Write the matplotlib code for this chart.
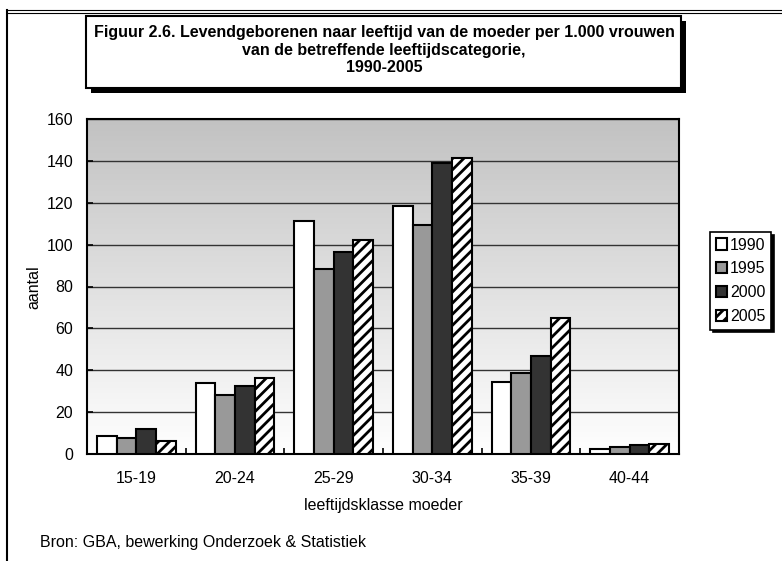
import matplotlib
matplotlib.use("Agg")
import matplotlib.pyplot as plt
from matplotlib.patches import Rectangle
from matplotlib.lines import Line2D
from matplotlib.colors import LinearSegmentedColormap
import numpy as np

categories = ["15-19", "20-24", "25-29", "30-34", "35-39", "40-44"]
years = ["1990", "1995", "2000", "2005"]
v1990 = [8.5, 33.8, 111.5, 118.6, 34.5, 2.2]
v1995 = [7.5, 28.3, 88.5, 109.3, 38.5, 3.2]
v2000 = [12.1, 32.5, 96.7, 139.0, 47.0, 4.4]
v2005 = [6.0, 36.2, 102.1, 141.4, 65.1, 4.9]

plt.rcParams['font.family'] = ['Liberation Sans', 'DejaVu Sans']
plt.rcParams['hatch.linewidth'] = 2.0
FS = 11.5

W, H = 782, 561
fig = plt.figure(figsize=(W / 100, H / 100), dpi=100)


def fx(px):
    return px / W


def fy(py):
    return 1 - py / H


# outer frame (top and left)
fig.add_artist(Line2D([fx(7), 1], [fy(10), fy(10)], color='k', lw=0.8))
fig.add_artist(Line2D([fx(7), 1], [fy(12.5), fy(12.5)], color='k', lw=0.8))
fig.add_artist(Line2D([fx(7), fx(7)], [fy(10), 0], color='k', lw=1.5))

# title box with shadow
fig.add_artist(Rectangle((fx(91), fy(93)), fx(681) - fx(86), fy(16) - fy(88),
                         facecolor='k', edgecolor='k', lw=0))
fig.add_artist(Rectangle((fx(86), fy(88)), fx(681) - fx(86), fy(16) - fy(88),
                         facecolor='white', edgecolor='k', lw=1.5))
title_lines = ["Figuur 2.6. Levendgeborenen naar leeftijd van de moeder per 1.000 vrouwen",
               "van de betreffende leeftijdscategorie,",
               "1990-2005"]
for i, t in enumerate(title_lines):
    fig.text(fx(384), fy(33 + 17 * i), t, ha='center', va='center',
             fontsize=FS, fontweight='bold')

ax = fig.add_axes([fx(87), fy(454), fx(679) - fx(87), fy(119) - fy(454)])

# gradient background
cmap = LinearSegmentedColormap.from_list("bg", ["#ffffff", "#c2c2c2"])
grad = np.linspace(0, 1, 256).reshape(-1, 1)
ax.imshow(grad, cmap=cmap, extent=[0, 1, 0, 1], transform=ax.transAxes,
          aspect='auto', origin='lower', zorder=0)

x = np.arange(len(categories))
w = 0.2
series = [v1990, v1995, v2000, v2005]
colors = ['white', '#999999', '#333333', 'white']
hatches = [None, None, None, '///']
for i, (vals, c, h) in enumerate(zip(series, colors, hatches)):
    ax.bar(x + (i - 1.5) * w, vals, width=w, color=c, edgecolor='k',
           linewidth=1.5, hatch=h, label=years[i], zorder=3)

ax.set_xlim(-0.5, len(categories) - 0.5)
ax.set_ylim(0, 160)
ax.set_yticks(range(0, 161, 20))
ax.yaxis.grid(True, color='#333333', lw=1.0, zorder=1)
ax.set_axisbelow(True)
ax.set_xticks(x)
ax.set_xticklabels(categories)
ax.set_xticks(np.arange(0.5, len(categories) - 0.5, 1), minor=True)
ax.tick_params(axis='x', which='major', length=0, pad=12, labelsize=FS)
ax.tick_params(axis='x', which='minor', direction='in', length=4, width=1.2)
ax.tick_params(axis='y', direction='in', length=4, width=1.2, pad=10, labelsize=FS)
for s in ax.spines.values():
    s.set_linewidth(1.5)

ax.set_xlabel("leeftijdsklasse moeder", fontsize=FS, labelpad=9)
fig.text(fx(34), fy(287), "aantal", rotation=90, ha='center', va='center', fontsize=FS)

leg = ax.legend(loc='upper left', bbox_to_anchor=(fx(710), fy(232)),
                bbox_transform=fig.transFigure, borderaxespad=0, fontsize=FS,
                fancybox=False, edgecolor='k', framealpha=1,
                handlelength=0.7, handleheight=0.7, handletextpad=0.2,
                labelspacing=0.55, borderpad=0.35,
                shadow={'color': 'k', 'alpha': 1})
leg.get_frame().set_linewidth(1.2)

fig.text(fx(40), fy(542), "Bron: GBA, bewerking Onderzoek & Statistiek",
         ha='left', va='center', fontsize=FS)

fig.savefig("out.png", dpi=100)
